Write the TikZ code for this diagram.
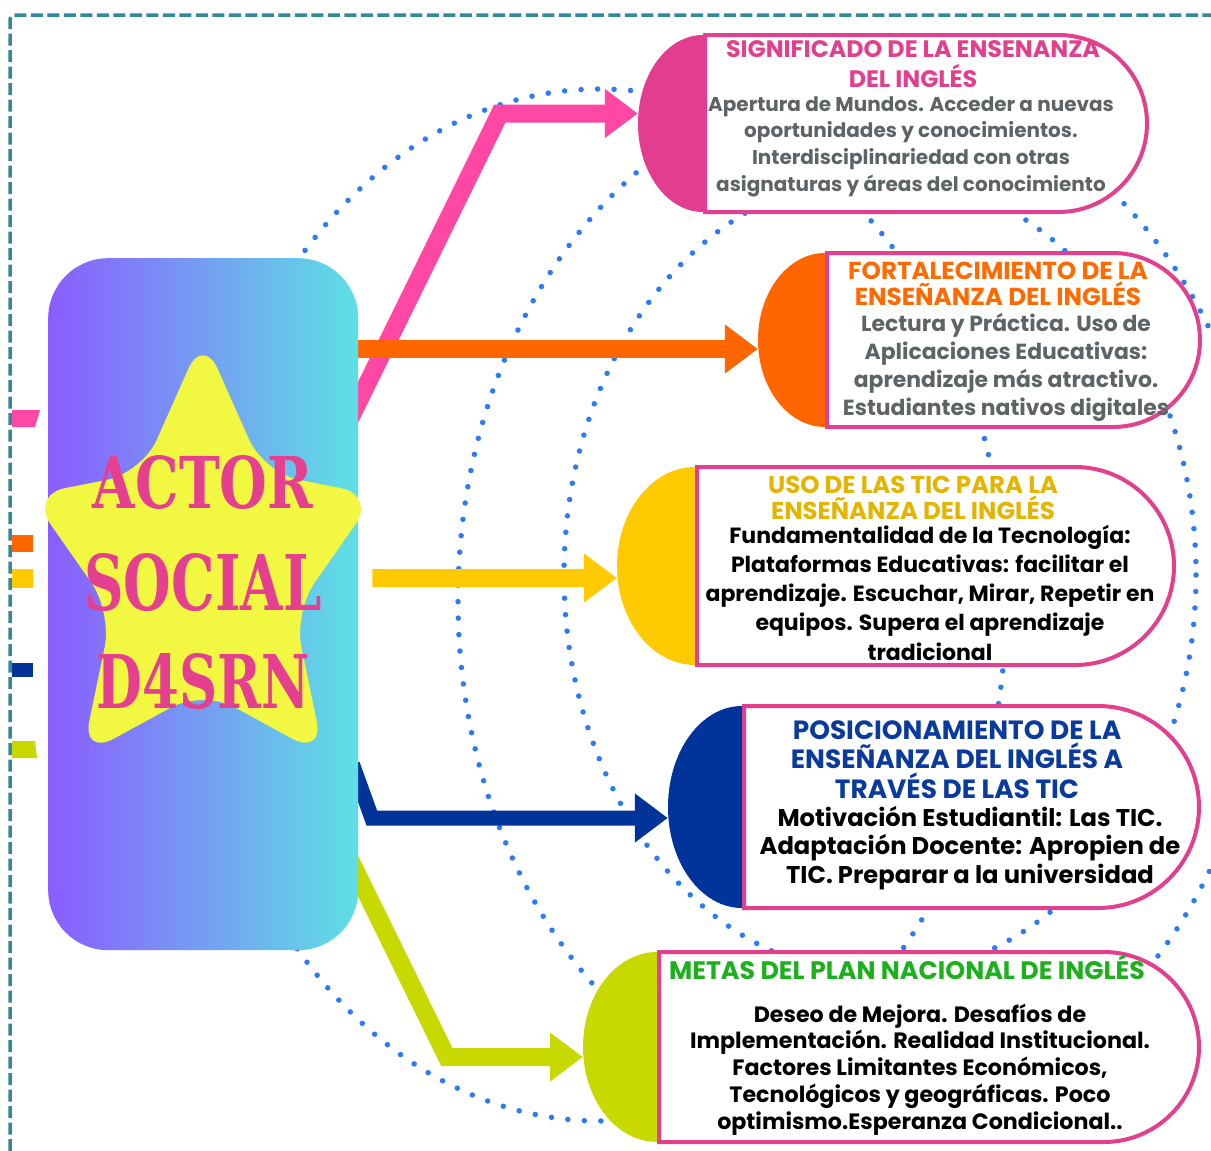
\documentclass[tikz,border=0pt]{standalone}
\usepackage{fontspec}
\usepackage{graphicx}
\setmainfont{Poppins}
\newfontfamily\pfont{Poppins}
\newfontfamily\starfont{DejaVu Serif}
\usetikzlibrary{arrows.meta,calc,shapes.geometric,shapes.misc}
\definecolor{borderteal}{HTML}{35889A}
\definecolor{dotblue}{HTML}{2B7BF7}
\definecolor{gradL}{HTML}{8B5CFF}
\definecolor{gradR}{HTML}{5EE0E5}
\definecolor{starY}{HTML}{F2F842}
\definecolor{starTxt}{HTML}{E5408F}
\definecolor{pinkA}{HTML}{FF47A3}
\definecolor{pinkC}{HTML}{E23D8F}
\definecolor{boxPink}{HTML}{E2408F}
\definecolor{orangeA}{HTML}{FF6600}
\definecolor{yellowA}{HTML}{FFCA00}
\definecolor{titleGold}{HTML}{E3B500}
\definecolor{navyA}{HTML}{00349A}
\definecolor{limeA}{HTML}{C8D900}
\definecolor{titleGreen}{HTML}{1DB01D}
\definecolor{grayTxt}{HTML}{5E6466}
\definecolor{titleOrange}{HTML}{FF6A00}
\definecolor{titleNavy}{HTML}{0A3A9E}
\pgfdeclarelayer{bglayer}
\pgfdeclarelayer{dotslayer}
\pgfdeclarelayer{arrowlayer}
\pgfsetlayers{bglayer,dotslayer,arrowlayer,main}
\tikzset{
  dotc/.style={draw=dotblue, line width=5.5pt, line cap=round, dash pattern=on 0pt off 16.5pt},
  arr/.style={line width=18pt, line join=miter, -{Triangle[length=33pt,width=47pt]}},
  ttl/.style={font=\pfont\bfseries\fontsize{#1}{#1}\selectfont},
  colpart/.style={ellipse, inner sep=0pt, draw=none},
  whitepart/.style={rounded rectangle, rounded rectangle left arc=none, draw=boxPink,
    line width=4pt, fill=white, inner sep=0pt, anchor=west},
}
% name, colour, xL, xc, xR, top, bottom
\newcommand\infobox[7]{%
  \node[colpart, fill=#2, minimum width={2*(#4-#3)}, minimum height={#7-#6}] (#1c) at (#4,{(#6+#7)/2}) {};
  \node[whitepart, minimum width={#5-#4}, minimum height={#7-#6}] (#1) at (#4,{(#6+#7)/2}) {};
}
% name, x, first baseline, line step, style, lines
\newcommand\txtlines[6]{%
  \foreach \tline [count=\i from 0] in {#6}{%
    \node[#5, anchor=base, inner sep=0pt] (#1-\i) at (#2,{#3+\i*#4}) {\tline};}}
\begin{document}
\begin{tikzpicture}[x=1pt,y=-1pt]
\begin{pgfonlayer}{bglayer}
\fill[white] (0,0) rectangle (1211,1151);
\end{pgfonlayer}
\useasboundingbox (0,0) rectangle (1211,1151);

% dotted orbits
\begin{pgfonlayer}{dotslayer}
\draw[dotc] (600,605) ellipse[x radius=406, y radius=516];
\draw[dotc] (864,600) ellipse[x radius=406, y radius=516];
\draw[dotc] (880,575) ellipse[x radius=316, y radius=400];
\end{pgfonlayer}

% central block
\node[rounded corners=60pt, left color=gradL, right color=gradR, minimum width=310pt,
      minimum height=692pt, anchor=north west, inner sep=0pt] (actor) at (48,258) {};
\fill[starY, rounded corners=36pt] (203,336) -- (264,473) -- (376,495) -- (294,612) -- (324,756)
   -- (203,690) -- (82,756) -- (112,612) -- (30,495) -- (142,473) -- cycle;
\node[text=starTxt, anchor=base, inner sep=0pt] (st1) at (203,508) {\resizebox{220pt}{53pt}{\starfont\bfseries ACTOR}};
\node[text=starTxt, anchor=base, inner sep=0pt] (st2) at (203,610) {\resizebox{237pt}{57pt}{\starfont\bfseries SOCIAL}};
\node[text=starTxt, anchor=base, inner sep=0pt] (st3) at (203,708) {\resizebox{213pt}{55pt}{\starfont\bfseries D4SRN}};

% right boxes
\infobox{b1}{pinkC}{638}{703}{1145}{35}{212}
\infobox{b2}{orangeA}{758}{825}{1198}{253}{427}
\infobox{b3}{yellowA}{617}{695}{1172}{467}{665}
\infobox{b4}{navyA}{668}{742}{1197}{706}{908}
\infobox{b5}{limeA}{583}{657}{1197}{952}{1142}

\txtlines{b1t}{913}{57}{30}{ttl=23.8, text=boxPink}{SIGNIFICADO DE LA ENSENANZA, DEL INGLÉS}
\txtlines{b1b}{911}{111}{26.7}{ttl=20, text=grayTxt}{Apertura de Mundos. Acceder a nuevas, oportunidades y conocimientos., Interdisciplinariedad con otras, asignaturas y áreas del conocimiento}
\txtlines{b2t}{998}{279}{26}{ttl=24.6, text=titleOrange}{FORTALECIMIENTO DE LA, ENSEÑANZA DEL INGLÉS}
\txtlines{b2b}{1006}{331}{28}{ttl=21.9, text=grayTxt}{Lectura y Práctica. Uso de, Aplicaciones Educativas:, aprendizaje más atractivo., Estudiantes nativos digitales}
\txtlines{b3t}{913}{493}{26}{ttl=24.4, text=titleGold}{USO DE LAS TIC PARA LA, ENSEÑANZA DEL INGLÉS}
\txtlines{b3b}{930}{543}{29.3}{ttl=22, text=black}{Fundamentalidad de la Tecnología:, Plataformas Educativas: facilitar el, {aprendizaje. Escuchar, Mirar, Repetir en}, equipos. Supera el aprendizaje, tradicional}
\txtlines{b4t}{957}{739}{29.5}{ttl=26.4, text=titleNavy}{POSICIONAMIENTO DE LA, ENSEÑANZA DEL INGLÉS A, TRAVÉS DE LAS TIC}
\txtlines{b4b}{970}{826}{28.5}{ttl=24.2, text=black}{Motivación Estudiantil: Las TIC., Adaptación Docente: Apropien de, TIC. Preparar a la universidad}
\txtlines{b5t}{907}{979}{0}{ttl=25.3, text=titleGreen}{METAS DEL PLAN NACIONAL DE INGLÉS}
\txtlines{b5b}{920}{1022}{26.8}{ttl=22.2, text=black}{Deseo de Mejora. Desafíos de, Implementación. Realidad Institucional., {Factores Limitantes Económicos,}, Tecnológicos y geográficas. Poco, optimismo.Esperanza Condicional..}

% connectors
\begin{pgfonlayer}{arrowlayer}
\draw[arr, pinkA] ($(actor.north east)+(-10,164)$) -- ($(b1c.west)+(-138,-10)$) -- ($(b1c.west)+(0,-10)$);
\draw[arr, orangeA] ($(actor.north east)+(-5,91)$) -- ($(b2c.west)+(0,9)$);
\draw[arr, yellowA] ($(actor.east)+(14,-26)$) -- ($(b3c.west)+(0,12)$);
\draw[arr, navyA, line width=15pt] ($(actor.east)+(-6,160)$) -- ($(b4c.west)+(-296,11)$) -- ($(b4c.west)+(0,11)$);
\draw[arr, limeA] ($(actor.east)+(-13,246)$) -- ($(b5c.west)+(-136,10)$) -- ($(b5c.west)+(0,10)$);
\end{pgfonlayer}

% small marks at the left edge
\fill[pinkA] (12,410) -- (40,410) -- (35,427) -- (12,427) -- cycle;
\fill[orangeA] (12,535) rectangle (33,552);
\fill[yellowA] (12,569) rectangle (33,588);
\fill[navyA] (12,663) rectangle (33,677);
\fill[limeA] (12,741) -- (35,741) -- (37,758) -- (12,758) -- cycle;

% dashed frame
\draw[borderteal, line width=3.5pt, dash pattern=on 12pt off 4.5pt, rounded corners=4pt]
  (10,1151) -- (10,15) -- (1211,15);
\end{tikzpicture}
\end{document}
